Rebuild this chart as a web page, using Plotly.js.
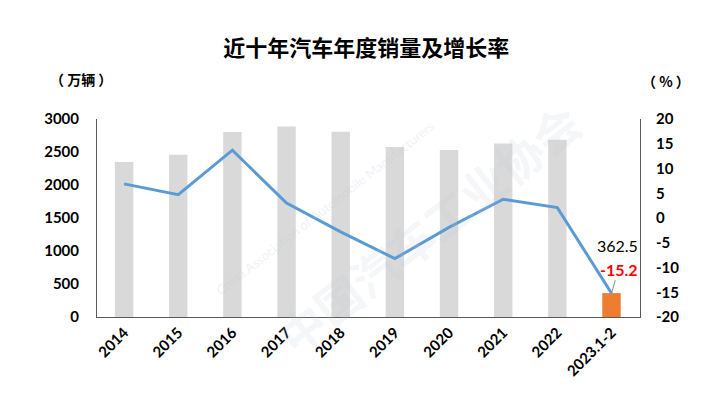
<!DOCTYPE html>
<html><head><meta charset="utf-8">
<script src="https://cdn.plot.ly/plotly-3.0.1.min.js"></script>
<style>html,body{margin:0;padding:0;background:#fff}#c{width:718px;height:406px}</style>
</head><body><div id="c"></div>
<script>
const categories = ['2014','2015','2016','2017','2018','2019','2020','2021','2022','2023.1-2'];
const sales = [2349, 2460, 2803, 2888, 2808, 2577, 2531, 2627, 2686, 362.5];
const growth = [6.9, 4.7, 13.7, 3.0, -2.8, -8.2, -1.9, 3.8, 2.1, -15.2];
const leftTicks = [0, 500, 1000, 1500, 2000, 2500, 3000];
const rightTicks = [-20, -15, -10, -5, 0, 5, 10, 15, 20];

const last = categories.length - 1;
const barColors = categories.map((c, i) => i === last ? '#ED7D31' : '#D9D9D9');
const tickFont = {family: 'Lato, "Open Sans", sans-serif', size: 15, color: '#000', weight: 'bold'};

const data = [
  {type: 'bar', x: categories, y: sales, marker: {color: barColors}, yaxis: 'y'},
  {type: 'scatter', mode: 'lines', x: categories, y: growth, yaxis: 'y2',
   line: {color: '#5B9BD5', width: 3}}
];

const cjk = '"Noto Sans CJK SC", sans-serif';
const layout = {
  width: 718, height: 406,
  margin: {l: 97, r: 78, t: 119, b: 89},
  paper_bgcolor: '#fff', plot_bgcolor: '#fff',
  showlegend: false,
  bargap: 0.66,
  title: {text: '近十年汽车年度销量及增长率', x: 0.51, xanchor: 'center', y: 0.88, yanchor: 'middle',
          font: {family: cjk, size: 22, color: '#000', weight: 'bold'}},
  xaxis: {type: 'category', tickangle: -45, tickfont: tickFont, showline: true, linecolor: '#595959',
          linewidth: 1, ticks: '', showgrid: false, zeroline: false},
  yaxis: {range: [0, 3000], tickvals: leftTicks, tickfont: tickFont, showline: true, linecolor: '#595959',
          linewidth: 1, showgrid: false, zeroline: false, ticks: '', ticklabelstandoff: 14},
  yaxis2: {range: [-20, 20], tickvals: rightTicks, ticktext: rightTicks.map(v => String(v)),
           overlaying: 'y', side: 'right', tickfont: tickFont, ticklabelstandoff: 12,
           showline: true, linecolor: '#595959', linewidth: 1, showgrid: false, zeroline: false, ticks: ''},
  annotations: [
    {xref: 'paper', yref: 'paper', x: 0.3, y: 0.45, showarrow: false, textangle: -38,
     text: '中国汽车工业协会', font: {family: cjk, size: 46, color: 'rgba(190,200,215,0.18)', weight: 'bold'}},
    {xref: 'paper', yref: 'paper', x: 0.42, y: 0.55, showarrow: false, textangle: -38,
     text: 'China Association of Automobile Manufacturers', font: {family: 'Lato, sans-serif', size: 13, color: 'rgba(190,200,215,0.25)'}},
    {xref: 'paper', yref: 'paper', x: -0.09, y: 1.2, xanchor: 'left', yanchor: 'middle', showarrow: false,
     text: '（ 万辆 ）', font: {family: cjk, size: 14, color: '#000', weight: 'bold'}},
    {xref: 'paper', yref: 'paper', x: 1.0, y: 1.19, xanchor: 'left', yanchor: 'middle', showarrow: false,
     text: '（ % ）', font: {family: cjk, size: 14, color: '#000', weight: 'bold'}},
    {x: categories[last], y: growth[last], xref: 'x', yref: 'y2', showarrow: false,
     xshift: 6, yshift: 48, text: String(sales[last]),
     font: {family: 'Lato, "Open Sans", sans-serif', size: 16, color: '#000'}},
    {x: categories[last], y: growth[last], xref: 'x', yref: 'y2', showarrow: true, arrowhead: 0,
     arrowwidth: 1, arrowcolor: '#8c8c8c', ax: 7, ay: -24, text: String(growth[last]),
     font: {family: 'Lato, "Open Sans", sans-serif', size: 16, color: '#FF0000', weight: 'bold'}}
  ]
};
Plotly.newPlot('c', data, layout, {displayModeBar: false, staticPlot: true});
</script></body></html>
